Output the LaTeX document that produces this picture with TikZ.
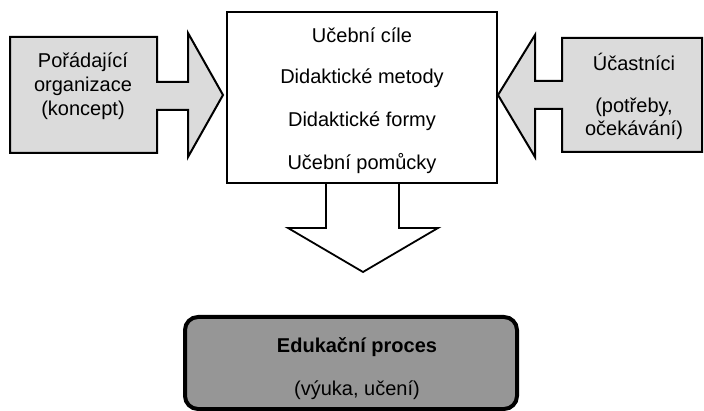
\documentclass[tikz,border=0pt]{standalone}
\usepackage{fontspec}
\setmainfont{Liberation Sans}
\begin{document}
\begin{tikzpicture}[x=1pt,y=-1pt,
  arrowshape/.style={draw=black,line width=2pt,fill=black!14,line join=miter},
  downshape/.style={draw=black,line width=1.8pt,fill=white,line join=miter},
  mainbox/.style={draw=black,line width=1.6pt,fill=white},
  procbox/.style={draw=black,line width=4pt,fill=black!41,rounded corners=13pt},
  lbl/.style={font=\fontsize{20}{24}\selectfont,inner sep=0pt,anchor=center},
  blbl/.style={font=\fontsize{20}{24}\selectfont\bfseries,inner sep=0pt,anchor=center}]
\useasboundingbox (0,0) rectangle (704,411);
% left arrow
\draw[arrowshape] (10,37) -- (157,37) -- (157,82) -- (188,82) -- (188,33) -- (223,95)
  -- (188,157) -- (188,110) -- (157,110) -- (157,153) -- (10,153) -- cycle;
% right arrow
\draw[arrowshape] (498,95) -- (535,35) -- (535,81) -- (562,81) -- (562,38) -- (702,38)
  -- (702,152) -- (562,152) -- (562,109) -- (535,109) -- (535,157) -- cycle;
% down arrow
\draw[downshape] (326,183) -- (326,228) -- (288,228) -- (363,272) -- (438,228) -- (399,228) -- (399,183);
% center box
\draw[mainbox] (227,12) rectangle (497,183);
% bottom box
\draw[procbox] (185,317) rectangle (517,409);
% texts
\node[lbl] (l1) at (83,62) {Pořádající};
\node[lbl] (l2) at (83,86) {organizace};
\node[lbl] (l3) at (83,110) {(koncept)};
\node[lbl] (r1) at (634,62) {Účastníci};
\node[lbl] (r2) at (634,107) {(potřeby,};
\node[lbl] (r3) at (634,130) {očekávání)};
\node[lbl] (c1) at (362,35) {Učební cíle};
\node[lbl] (c2) at (362,78) {Didaktické metody};
\node[lbl] (c3) at (362,121) {Didaktické formy};
\node[lbl] (c4) at (362,164) {Učební pomůcky};
\node[blbl] (b1) at (357,347) {Edukační proces};
\node[lbl] (b2) at (357,390) {(výuka, učení)};
\end{tikzpicture}
\end{document}
